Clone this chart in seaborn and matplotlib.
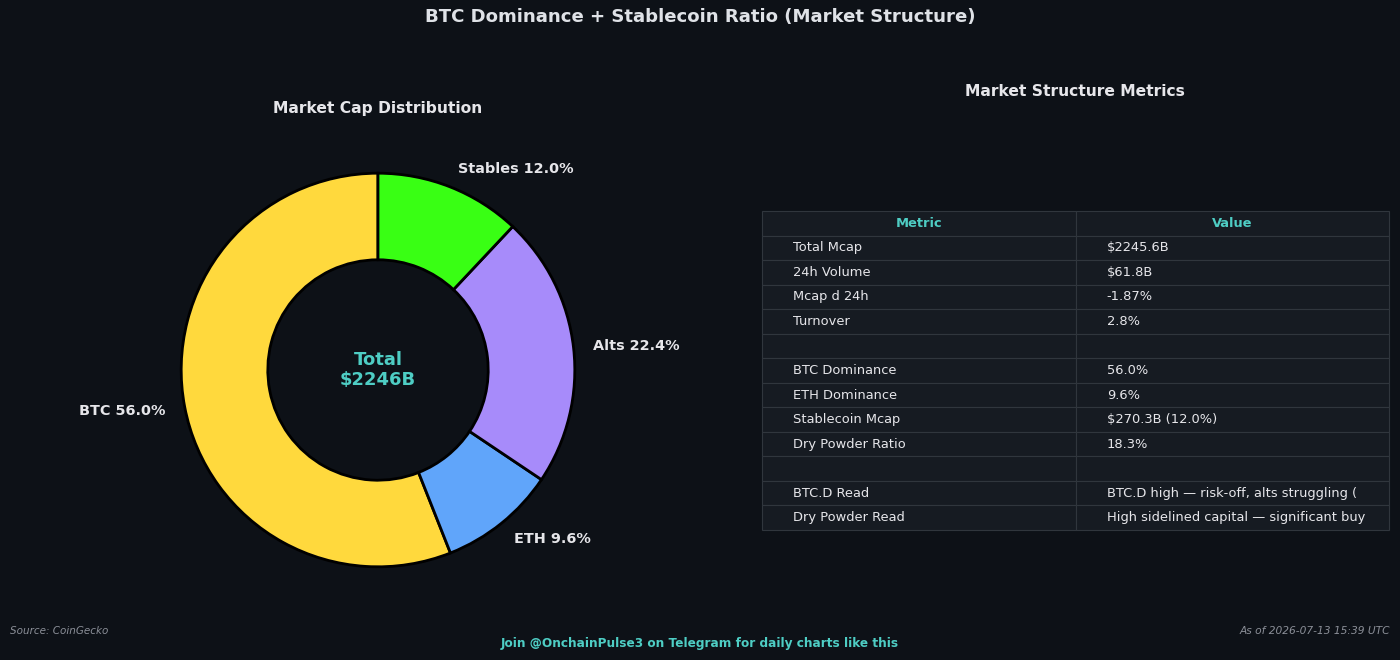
import matplotlib
matplotlib.use("Agg")
import matplotlib.pyplot as plt
import seaborn as sns

# ---- data ----
segments = ["BTC", "ETH", "Alts", "Stables"]
shares = [56.0, 9.6, 22.4, 12.0]
seg_colors = ["#FFD93D", "#60A5FA", "#A78BFA", "#39FF14"]
total_label = "$2246B"

metric_names = ["Total Mcap", "24h Volume", "Mcap d 24h", "Turnover", "",
                "BTC Dominance", "ETH Dominance", "Stablecoin Mcap", "Dry Powder Ratio", "",
                "BTC.D Read", "Dry Powder Read"]
metric_values = ["$2245.6B", "$61.8B", "-1.87%", "2.8%", "",
                 "56.0%", "9.6%", "$270.3B (12.0%)", "18.3%", "",
                 "BTC.D high \u2014 risk-off, alts struggling (",
                 "High sidelined capital \u2014 significant buy"]
header = ["Metric", "Value"]

BG = "#0d1117"
CELL = "#161b22"
EDGE = "#30363d"
TXT = "#e6e6ea"
TEAL = "#4ecdc4"

sns.set_theme(style="dark", rc={"figure.facecolor": BG, "axes.facecolor": BG,
                                "text.color": TXT, "savefig.facecolor": BG})
plt.rcParams["font.family"] = ["DejaVu Sans"]

fig = plt.figure(figsize=(14, 6.6), dpi=100)

# ---- donut ----
ax1 = fig.add_axes([(378 - 252) / 1400, (660 - 370 - 246) / 660, 504 / 1400, 492 / 660])
ax1.set_facecolor(BG)
wedges, texts = ax1.pie(shares, labels=[f"{s} {v:.1f}%" for s, v in zip(segments, shares)],
                        colors=seg_colors, startangle=90, counterclock=True,
                        wedgeprops=dict(width=0.44, edgecolor="#000000", linewidth=2),
                        textprops=dict(color=TXT, fontsize=10.4, fontweight="bold"))
ax1.set_aspect("equal")
ax1.text(0, 0, f"Total\n{total_label}", ha="center", va="center", color=TEAL,
         fontsize=13, fontweight="bold")
ax1.set_title("Market Cap Distribution", color=TXT, fontsize=11.2, fontweight="bold", pad=8)

# ---- table ----
ax2 = fig.add_axes([762 / 1400, 130 / 660, 627 / 1400, 319 / 660])
ax2.set_facecolor(BG)
ax2.axis("off")
rows = [[m, v] for m, v in zip(metric_names, metric_values)]
tbl = ax2.table(cellText=rows, colLabels=header, cellLoc="left", colLoc="center",
                bbox=[0, 0, 1, 1])
tbl.auto_set_font_size(False)
tbl.set_fontsize(9.4)
for (r, c), cell in tbl.get_celld().items():
    cell.set_facecolor(CELL)
    cell.set_edgecolor(EDGE)
    cell.set_linewidth(0.8)
    if r == 0:
        cell.get_text().set_color(TEAL)
        cell.get_text().set_fontweight("bold")
    else:
        cell.get_text().set_color(TXT)
fig.text(1075 / 1400, 1 - 91 / 660, "Market Structure Metrics", ha="center", va="center",
         color=TXT, fontsize=11.2, fontweight="bold")

# ---- titles / footers ----
fig.text(0.5, 1 - 17 / 660, "BTC Dominance + Stablecoin Ratio (Market Structure)",
         ha="center", va="center", color="#dfe2e7", fontsize=13.1, fontweight="bold")
fig.text(10 / 1400, 1 - 631 / 660, "Source: CoinGecko", ha="left", va="center",
         color="#8b8f98", fontsize=7.5, style="italic")
fig.text(1390 / 1400, 1 - 631 / 660, "As of 2026-07-13 15:39 UTC", ha="right", va="center",
         color="#8b8f98", fontsize=7.7, style="italic")
fig.text(0.5, 1 - 643 / 660, "Join @OnchainPulse3 on Telegram for daily charts like this",
         ha="center", va="center", color=TEAL, fontsize=8.75, fontweight="bold")

fig.savefig("out.png", dpi=100, facecolor=BG)
